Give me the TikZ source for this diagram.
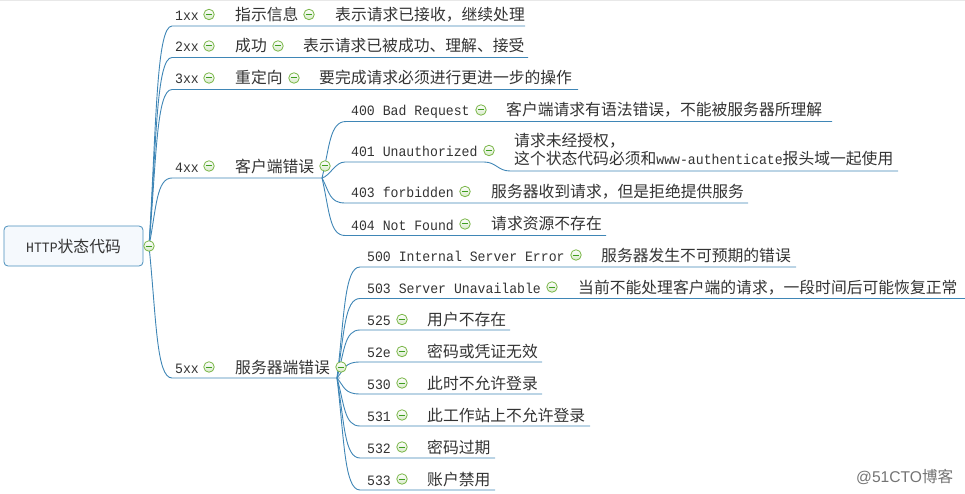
\documentclass[tikz,border=0pt]{standalone}
\usepackage{fontspec}
\setmainfont{Noto Sans CJK SC}
\newfontfamily\monof[FakeStretch=0.92]{Liberation Mono}
\newfontfamily\markf{Liberation Sans}
\newfontfamily\markc{Noto Sans CJK SC}
\usetikzlibrary{calc}
\definecolor{linkc}{HTML}{3F86B6}
\definecolor{boxf}{HTML}{F5F9FD}
\definecolor{boxd}{HTML}{4A8FBC}
\definecolor{txt}{HTML}{333333}
\definecolor{icong}{HTML}{7AB648}
\definecolor{iconm}{HTML}{3E9E1E}
\tikzset{
  x=1pt,y=-1pt,
  link/.style={draw=linkc,line width=0.9pt},
  code/.style={anchor=base west,inner sep=0pt,yshift=-1pt,text=txt,font=\fontsize{14.3}{16}\monof},
  cn/.style={anchor=base west,inner sep=0pt,text=txt,font=\fontsize{15.8}{20}\selectfont},
  rootbox/.style={draw=boxd,fill=boxf,rounded corners=4pt,line width=0.8pt,minimum width=139pt,minimum height=40pt,inner sep=0pt},
  toggle/.style={circle,draw=icong,line width=0.8pt,top color=white,bottom color=white!70!icong,minimum size=10.5pt,inner sep=0pt,
    path picture={\draw[iconm,line width=1pt] ($(path picture bounding box.center)+(-3.2pt,0pt)$)--($(path picture bounding box.center)+(3.2pt,0pt)$);}},
}
% #1 hub, #2 name, #3 y, #4 x start, #5 x end
\newcommand{\bline}[5]{%
  \coordinate (#2s) at (#4,#3);
  \coordinate (#2e) at (#5,#3);
  \coordinate (#2a) at ($(#1)!0.32!(#2s)$);
  \coordinate (#2b) at ($(#1)!0.55!(#2s)$);
  \draw[link] (#1) .. controls (#2a |- #2b) and (#2a |- #2s) .. (#2s) -- (#2e);
}
% #1 name, #2 x, #3 y of the icon
\newcommand{\tog}[3]{\node[toggle] (#1) at (#2,#3) {};}
\begin{document}
\begin{tikzpicture}
\useasboundingbox (0,0) rectangle (965,494);
\fill[black!9] (0,0) rectangle (965,1.2);
\coordinate (hub) at (149,246);
\coordinate (hubd) at (322,178);
\coordinate (hubf) at (337,378);
% level 1
\bline{hub}{la}{26}{172}{525}
\bline{hub}{lb}{57.5}{172}{528}
\bline{hub}{lc}{89.5}{172}{578}
\bline{hub}{ld}{178}{172}{322}
\bline{hub}{lf}{378}{172}{340}
% 4xx children
\bline{hubd}{m}{121.5}{346}{832}
\coordinate (na) at (484,162);
\coordinate (nb) at (510,171);
\coordinate (nc) at (898,171);
\coordinate (nh) at (345,162);
\draw[link] (hubd) .. controls (330,176) and (335,162) .. (nh) -- (na) .. controls (496,162) and (498,171) .. (nb) -- (nc);
\bline{hubd}{o}{203}{345}{748}
\bline{hubd}{p}{235.5}{345}{606}
% 5xx children
\bline{hubf}{q}{267}{360}{796}
\bline{hubf}{r}{298.5}{360}{965}
\bline{hubf}{s}{330}{360}{510}
\bline{hubf}{t}{362}{360}{542}
\bline{hubf}{u}{394}{360}{542}
\bline{hubf}{v}{426}{360}{590}
\bline{hubf}{w}{458}{360}{495}
\bline{hubf}{y}{490}{360}{495}
% root
\node[rootbox,text=txt] (root) at (73.5,246) {\fontsize{15.8}{20}\selectfont{\fontsize{14.3}{16}\monof HTTP}状态代码};
\tog{trt}{149}{246}
% 1xx
\node[code] (ca) at (175,19.5) {1xx}; \tog{ia}{209}{14.5}
\node[cn] (ta) at (235,20.5) {指示信息}; \tog{ia2}{309}{14.5}
\node[cn] (da) at (335,20.5) {表示请求已接收，继续处理};
% 2xx
\node[code] (cb) at (175,51) {2xx}; \tog{ib}{209}{46}
\node[cn] (tb) at (235,52) {成功}; \tog{ib2}{278}{46}
\node[cn] (db) at (303,52) {表示请求已被成功、理解、接受};
% 3xx
\node[code] (cc) at (175,83) {3xx}; \tog{ic}{209}{78}
\node[cn] (tc) at (235,84) {重定向}; \tog{ic2}{294}{78}
\node[cn] (dc) at (319,84) {要完成请求必须进行更进一步的操作};
% 4xx
\node[code] (cd) at (175,172) {4xx}; \tog{id}{209}{166}
\node[cn] (td) at (235,172.5) {客户端错误}; \tog{id2}{325}{166}
\node[code] (c400) at (351,115) {400 Bad Request}; \tog{i400}{481}{110}
\node[cn] (d400) at (506,116) {客户端请求有语法错误，不能被服务器所理解};
\node[code] (c401) at (351,155.5) {401 Unauthorized}; \tog{i401}{489}{150.5}
\node[cn] (d401a) at (514,147) {请求未经授权，};
\node[cn] (d401b) at (514,165) {这个状态代码必须和{\fontsize{14.3}{16}\monof www-authenticate}报头域一起使用};
\node[code] (c403) at (351,196.5) {403 forbidden}; \tog{i403}{465}{191.5}
\node[cn] (d403) at (491,197.5) {服务器收到请求，但是拒绝提供服务};
\node[code] (c404) at (351,229) {404 Not Found}; \tog{i404}{465}{224}
\node[cn] (d404) at (491,229.5) {请求资源不存在};
% 5xx
\node[code] (cf) at (175,372) {5xx}; \tog{if}{209}{367}
\node[cn] (tf) at (235,373) {服务器端错误}; \tog{if2}{341}{367}
\node[code] (c500) at (367,260) {500 Internal Server Error}; \tog{i500}{576}{255}
\node[cn] (d500) at (601,261) {服务器发生不可预期的错误};
\node[code] (c503) at (367,292) {503 Server Unavailable}; \tog{i503}{552}{287}
\node[cn] (d503) at (578,293) {当前不能处理客户端的请求，一段时间后可能恢复正常};
\node[code] (c525) at (367,324) {525}; \tog{i525}{402}{319.5}
\node[cn] (d525) at (427,325) {用户不存在};
\node[code] (c52e) at (367,356) {52e}; \tog{i52e}{402}{351.5}
\node[cn] (d52e) at (427,357) {密码或凭证无效};
\node[code] (c530) at (367,388) {530}; \tog{i530}{402}{383}
\node[cn] (d530) at (427,389) {此时不允许登录};
\node[code] (c531) at (367,420) {531}; \tog{i531}{402}{415}
\node[cn] (d531) at (427,421) {此工作站上不允许登录};
\node[code] (c532) at (367,452) {532}; \tog{i532}{402}{447}
\node[cn] (d532) at (427,453) {密码过期};
\node[code] (c533) at (367,484) {533}; \tog{i533}{402}{479}
\node[cn] (d533) at (427,485) {账户禁用};
% watermark
\node[anchor=base west,inner sep=0pt,text=black!55,font=\fontsize{15.6}{18}\markf] (wm) at (856,482) {@51CTO{\markc 博客}};
\end{tikzpicture}
\end{document}
